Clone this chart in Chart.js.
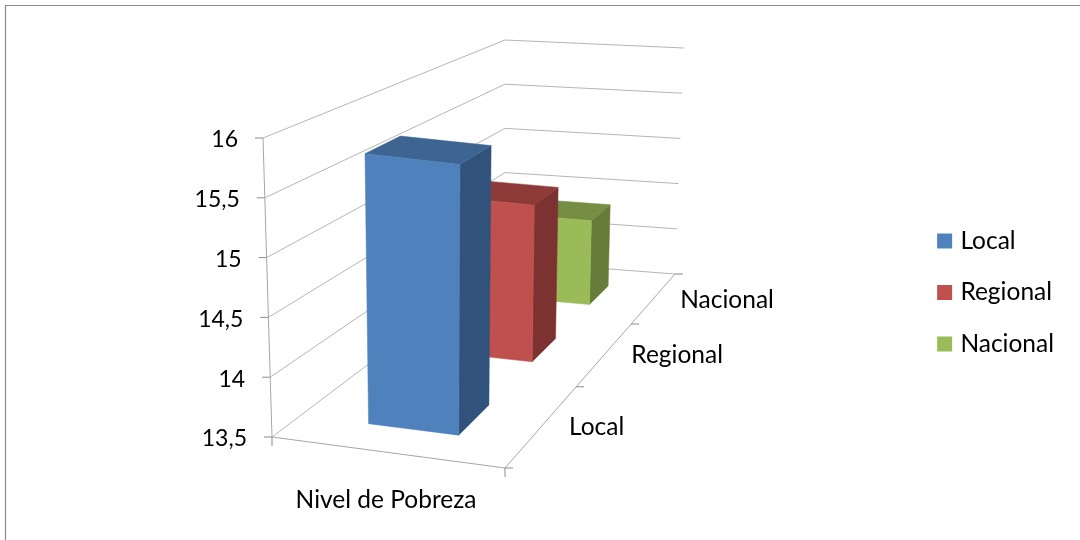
<!DOCTYPE html>
<html>
<head>
<meta charset="utf-8">
<style>
  html, body { margin: 0; background: #fff; }
  canvas { display: block; }
</style>
<script src="https://cdn.jsdelivr.net/npm/chart.js@4/dist/chart.umd.min.js"></script>
</head>
<body>
<canvas id="chart" width="1080" height="540"></canvas>
<script>
const categories = ['Nivel de Pobreza'];
const seriesNames = ['Local', 'Regional', 'Nacional'];
const localValues = [15.83];
const regionalValues = [15.0];
const nacionalValues = [14.38];
const valueTicks = [13.5, 14, 14.5, 15, 15.5, 16];

const seriesColors = [
    { front: '#4f81bd', top: '#3e6592', side: '#31527a' },
    { front: '#c0504d', top: '#8e3a38', side: '#7c3230' },
    { front: '#9bbb59', top: '#758e43', side: '#667c3a' }
];

// corners of the 3d box on screen: [u, v, w] = across, up, depth
const box = {
    '000': [272, 437], '100': [505, 468], '010': [263, 138], '110': [510, 168],
    '001': [505, 261], '101': [675, 274], '011': [505, 40], '111': [684, 48]
};
const depthWarp = 1.44;
const barHalfWidth = 0.2;
const depthStart = 0.27, depthEnd = 0.65;
const fontFamily = 'Lato, Carlito, sans-serif';
const wordSize = 24.5;
const numberSize = 23;

function warp(w) {
    return depthWarp * w / (1 + (depthWarp - 1) * w);
}

// trilinear lookup between the corners, with perspective on depth
function project(u, v, w) {
    const d = warp(w);
    const out = [0, 0];
    for (const i of [0, 1]) {
        const a = box['000'][i] * (1 - u) + box['100'][i] * u;
        const b = box['010'][i] * (1 - u) + box['110'][i] * u;
        const c = box['001'][i] * (1 - u) + box['101'][i] * u;
        const e = box['011'][i] * (1 - u) + box['111'][i] * u;
        const near = a * (1 - v) + b * v;
        const far = c * (1 - v) + e * v;
        out[i] = near * (1 - d) + far * d;
    }
    return out;
}

function line(ctx, pts, color, width) {
    ctx.beginPath();
    pts.forEach((p, i) => i ? ctx.lineTo(p[0], p[1]) : ctx.moveTo(p[0], p[1]));
    ctx.strokeStyle = color;
    ctx.lineWidth = width;
    ctx.stroke();
}

function face(ctx, pts, color) {
    ctx.beginPath();
    pts.forEach((p, i) => i ? ctx.lineTo(p[0], p[1]) : ctx.moveTo(p[0], p[1]));
    ctx.closePath();
    ctx.fillStyle = color;
    ctx.strokeStyle = color;
    ctx.lineWidth = 0.5;
    ctx.fill();
    ctx.stroke();
}

const scene3d = {
    id: 'scene3d',
    beforeDatasetsDraw(chart) {
        const ctx = chart.ctx;
        const y = chart.scales.y;
        const x = chart.scales.x;
        const toV = val => (y.bottom - y.getPixelForValue(val)) / y.height;
        ctx.save();

        // outer frame, only top and left show
        line(ctx, [[5.5, 540], [5.5, 5.5], [1080, 5.5]], '#8c8c8c', 1.2);

        // walls
        y.ticks.forEach(t => {
            const v = toV(t.value);
            line(ctx, [project(0, v, 0), project(0, v, 1), project(1, v, 1)], '#b5b5b5', 1);
            const p = project(0, v, 0);
            line(ctx, [[p[0] - 8, p[1]], p], '#8c8c8c', 1);
        });
        line(ctx, [project(0, 1, 0), project(0, 0, 0), project(1, 0, 0), project(1, 0, 1)], '#a6a6a6', 1);

        // value labels follow the slanted axis
        ctx.fillStyle = '#000';
        ctx.textBaseline = 'middle';
        ctx.textAlign = 'right';
        ctx.font = numberSize + 'px ' + fontFamily;
        y.ticks.forEach(t => {
            const p = project(0, toV(t.value), 0);
            ctx.fillText(t.label, p[0] - 25, p[1] + 2);
        });

        // ticks under the floor and along the depth axis
        for (const u of [0, 1]) {
            const p = project(u, 0, 0);
            line(ctx, [p, [p[0], p[1] + 9]], '#8c8c8c', 1);
        }
        for (let i = 0; i <= seriesNames.length; i++) {
            const p = project(1, 0, i / seriesNames.length);
            line(ctx, [p, [p[0] + 8, p[1]]], '#8c8c8c', 1);
        }

        // category and depth labels
        ctx.font = wordSize + 'px ' + fontFamily;
        ctx.textAlign = 'center';
        ctx.fillText(x.getLabelForValue(0), x.getPixelForValue(0), y.bottom + 62);
        ctx.textAlign = 'left';
        seriesNames.forEach((name, i) => {
            const p = project(1, 0, (i + 0.5) / seriesNames.length);
            ctx.fillText(name, p[0] + 26, p[1] + 2);
        });

        // bars, far one first
        const cx = (x.getPixelForValue(0) - x.left) / x.width;
        const u0 = cx - barHalfWidth, u1 = cx + barHalfWidth;
        for (let i = chart.data.datasets.length - 1; i >= 0; i--) {
            const v = toV(chart.data.datasets[i].data[0]);
            const w0 = (i + depthStart) / seriesNames.length;
            const w1 = (i + depthEnd) / seriesNames.length;
            const c = seriesColors[i];
            face(ctx, [project(u1, 0, w0), project(u1, 0, w1), project(u1, v, w1), project(u1, v, w0)], c.side);
            face(ctx, [project(u0, v, w0), project(u1, v, w0), project(u1, v, w1), project(u0, v, w1)], c.top);
            face(ctx, [project(u0, 0, w0), project(u1, 0, w0), project(u1, v, w0), project(u0, v, w0)], c.front);
        }
        ctx.restore();
    },
    // the flat bars are replaced by the ones above
    beforeDatasetDraw() {
        return false;
    }
};

new Chart(document.getElementById('chart'), {
    type: 'bar',
    plugins: [scene3d],
    data: {
        labels: categories,
        datasets: [
            { label: seriesNames[0], data: localValues, backgroundColor: seriesColors[0].front, borderColor: seriesColors[0].front, borderWidth: 8 },
            { label: seriesNames[1], data: regionalValues, backgroundColor: seriesColors[1].front, borderColor: seriesColors[1].front, borderWidth: 8 },
            { label: seriesNames[2], data: nacionalValues, backgroundColor: seriesColors[2].front, borderColor: seriesColors[2].front, borderWidth: 8 }
        ]
    },
    options: {
        responsive: false,
        animation: false,
        devicePixelRatio: 1,
        layout: { padding: { top: 138, right: 16, bottom: 93, left: 0 } },
        plugins: {
            tooltip: { enabled: false },
            legend: {
                position: 'right',
                labels: {
                    boxWidth: 7,
                    boxHeight: 7,
                    padding: 27,
                    color: '#000',
                    font: { family: fontFamily, size: wordSize }
                }
            }
        },
        scales: {
            x: {
                afterFit: s => { s.height = 9; },
                grid: { display: false, drawTicks: false },
                border: { display: false },
                ticks: { display: false }
            },
            y: {
                min: 13.5,
                max: 16,
                afterFit: s => { s.width = 245; },
                grid: { display: false, drawTicks: false },
                border: { display: false },
                afterBuildTicks: s => { s.ticks = valueTicks.map(v => ({ value: v })); },
                ticks: {
                    display: false,
                    callback: v => String(v).replace('.', ',')
                }
            },
            spacer: {
                position: 'right',
                afterFit: s => { s.width = 387; },
                grid: { display: false, drawTicks: false },
                border: { display: false },
                ticks: { display: false }
            }
        }
    }
});
</script>
</body>
</html>
